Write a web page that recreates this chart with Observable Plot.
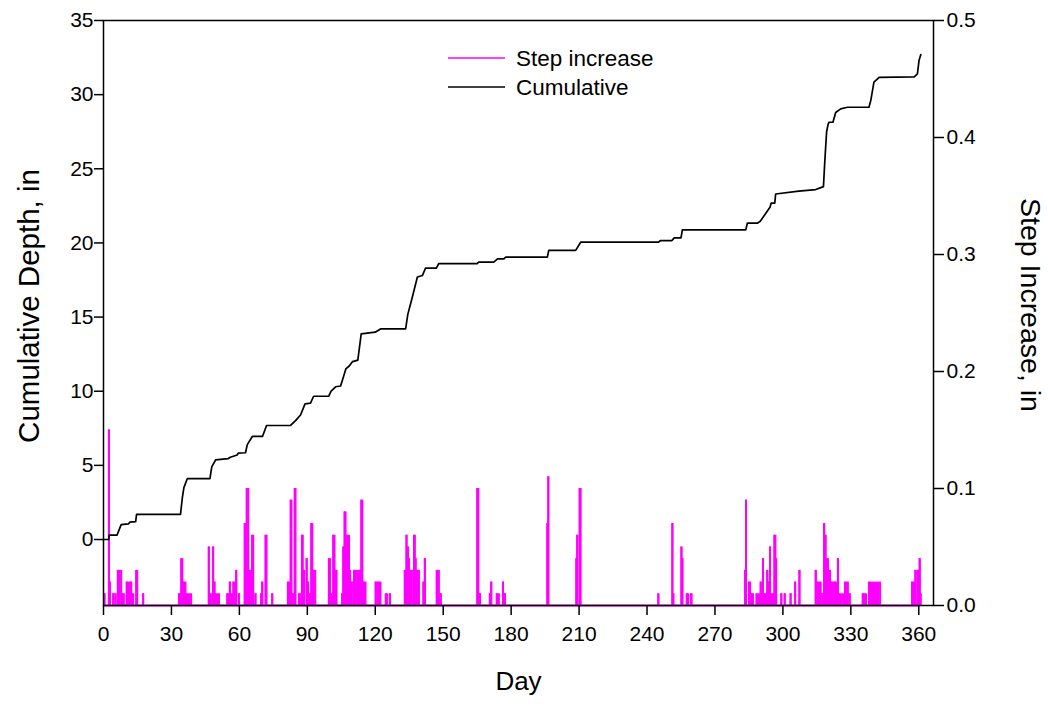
<!DOCTYPE html>
<html><head><meta charset="utf-8">
<script src="https://cdn.jsdelivr.net/npm/d3@7"></script>
<script src="https://cdn.jsdelivr.net/npm/@observablehq/plot@0.6"></script>
<style>body{margin:0;background:#fff} #chart{width:1048px;height:707px}</style>
</head><body><div id="chart"></div>
<script>
// Cumulative depth (in) vs day
const cumDays = [0,2.3,2.5,6,7.8,11,11.6,14.2,14.6,34,34.8,35.5,37,47,47.8,49.5,55,56,59,59.5,62.7,63.5,65.7,70.2,72,82.6,84.8,87,89,91.4,92.8,99.4,100.5,102.5,104.7,106,107,108.5,110,112.3,113.8,120,122.3,133.4,134.4,136.3,138.6,140.8,142.2,147,148,165,165.6,172.3,174,176.8,177.6,196,196.6,208.5,210.7,245,246,251,252,255,255.6,283.6,284.3,288.7,290,292,294.3,294.8,296.4,296.8,307,314.5,317.9,318.5,319.3,320,320.4,322.1,323.3,325.5,328.5,338,338.8,340.2,342.5,358,359.4,360.1,360.9];
const cumVals = [0,0,0.3,0.3,1.0,1.05,1.17,1.2,1.7,1.7,2.8,3.5,4.1,4.1,4.9,5.37,5.45,5.55,5.7,5.82,5.85,6.4,6.95,6.95,7.69,7.69,8.02,8.4,9.15,9.2,9.66,9.66,10.0,10.3,10.35,11.0,11.5,11.7,12.0,12.1,13.87,13.98,14.2,14.2,15.2,16.3,17.7,17.8,18.3,18.3,18.6,18.6,18.7,18.7,18.93,18.93,19.04,19.04,19.5,19.5,20.05,20.05,20.16,20.16,20.34,20.34,20.88,20.88,21.33,21.33,21.46,21.9,22.4,22.68,22.68,23.3,23.49,23.6,23.8,25.5,27.5,28.03,28.14,28.14,28.8,29.04,29.15,29.15,29.6,30.84,31.17,31.2,31.4,32.3,32.7];

// Step increase (in): spans of days [start, end] with value
const stepStart = [0.4,2.4,2.8,4.3,5.3,6.3,8.3,10.2,12.2,12.7,14.4,17.5,33.3,34.3,35.2,36.7,46.5,46.8,48.4,49,49.5,54.6,55.8,56.2,57.3,58.6,59.8,62.3,63.2,64.6,65.6,67.1,69.6,70.1,71.5,74.5,81.4,82.6,83.8,84.4,86.3,87.6,88.5,89.7,90.3,91.1,91.7,92.6,99.5,100.3,101.4,102.5,105.4,105.9,106.4,107.3,108.5,109.4,110.6,112.3,112.8,113.8,115,120.1,121.2,121.6,124.6,126.5,133,133.8,134.4,134.9,135.3,137.1,137.8,138.2,141.2,141.9,147.1,148.9,165,166.2,170.6,171.2,173.6,176.4,177.3,196,196.4,208.8,209.2,210.2,245,251.2,251.6,255.2,255.6,257.5,259.3,283.3,283.7,285,286.1,288.3,290.2,290.6,291.2,292,293.1,293.6,294.3,294.9,296.2,297,299.3,300.8,303.4,305.4,307.3,314.5,315.2,317.4,318.2,318.8,319.3,320.3,321.4,323,324.3,325,327.4,329.5,335.2,338,357,358.5,359.4,360.4,360.8];
const stepEnd   = [0.4,2.4,2.8,4.3,5.3,7.8,9.0,11.6,12.2,13.1,14.9,17.5,34,34.8,36.2,38.7,46.5,48,48.4,49,51,55.2,55.8,57,57.9,58.6,59.8,62.7,63.9,65.2,66.1,67.1,69.6,70.1,72,74.5,82.3,83.0,83.8,84.8,87.3,88.0,88.5,89.7,90.3,91.4,92.2,93.5,100,101,102,102.9,105.4,105.9,106.9,108.4,108.9,110.3,112,112.3,113.5,114.3,115.7,120.9,121.2,122.3,125.3,126.5,133.8,133.8,134.4,134.9,136.8,137.5,137.8,139.3,141.9,141.9,148.1,148.9,165.5,166.2,170.6,171.2,174.6,176.4,177.3,196,196.4,208.8,209.2,210.7,245,251.2,251.6,255.2,255.6,258.1,259.7,283.3,283.7,285.5,286.8,289.8,290.2,290.6,291.2,292.5,293.1,293.6,294.3,295.6,296.7,297,299.3,300.8,303.4,305.4,307.3,314.5,316.7,317.4,318.2,318.8,319.9,320.8,322.6,323.7,324.3,326.6,328.7,329.5,336.7,342.9,357.9,358.5,360,360.4,360.8];
const stepVal   = [0.01,0.15,0.02,0.01,0.01,0.03,0.01,0.02,0.02,0.01,0.03,0.01,0.01,0.04,0.02,0.01,0.05,0.01,0.05,0.02,0.01,0.01,0.02,0.01,0.02,0.03,0.01,0.07,0.10,0.03,0.06,0.01,0.01,0.02,0.06,0.01,0.02,0.09,0.01,0.10,0.01,0.06,0.03,0.04,0.02,0.01,0.07,0.03,0.04,0.01,0.06,0.03,0.01,0.05,0.08,0.06,0.03,0.02,0.03,0.02,0.03,0.09,0.02,0.02,0.01,0.02,0.01,0.01,0.03,0.06,0.05,0.04,0.03,0.06,0.04,0.03,0.02,0.04,0.03,0.01,0.10,0.01,0.01,0.02,0.01,0.02,0.01,0.07,0.11,0.04,0.06,0.10,0.01,0.07,0.01,0.05,0.04,0.01,0.01,0.03,0.09,0.02,0.01,0.01,0.02,0.01,0.04,0.01,0.03,0.02,0.05,0.01,0.06,0.04,0.01,0.01,0.01,0.02,0.03,0.03,0.02,0.01,0.07,0.06,0.04,0.03,0.02,0.02,0.04,0.01,0.02,0.01,0.01,0.02,0.02,0.03,0.03,0.04,0.01];

const dayTicks = [0,30,60,90,120,150,180,210,240,270,300,330,360];
const depthTicks = [0,5,10,15,20,25,30,35];
const stepTicks = [0,0.1,0.2,0.3,0.4,0.5];
const seriesNames = ["Step increase","Cumulative"];
const seriesColors = ["#ff00ff","#000000"];
const xTitle = "Day";
const yLeftTitle = "Cumulative Depth, in";
const yRightTitle = "Step Increase, in";

const L0 = -4.45, L1 = 35, R0 = 0, R1 = 0.5;
const toLeft = r => L0 + (r - R0) * (L1 - L0) / (R1 - R0);
const fromLeft = l => R0 + (l - L0) * (R1 - R0) / (L1 - L0);

const cum = cumDays.map((d, i) => ({day: d, value: cumVals[i]}));
const steps = stepStart.map((s, i) => ({start: s, end: stepEnd[i], base: toLeft(0), top: toLeft(stepVal[i])}));
const dayExtent = d3.extent(cumDays);

const font = "'Liberation Sans', Arial, sans-serif";
const plot = Plot.plot({
  width: 1048, height: 707,
  marginLeft: 103, marginRight: 115, marginTop: 20, marginBottom: 102,
  style: {fontFamily: font, fontSize: "21px", color: "#000", background: "#fff"},
  x: {domain: [0, 366.5]},
  y: {domain: [L0, L1]},
  marks: [
    Plot.ruleY([toLeft(0)], {x1: dayExtent[0], x2: dayExtent[1], stroke: seriesColors[0], strokeWidth: 2}),
    Plot.rect(steps, {x1: "start", x2: "end", y1: "base", y2: "top", fill: seriesColors[0]}),
    Plot.ruleX(steps, {x: "start", y1: "base", y2: "top", stroke: seriesColors[0], strokeWidth: 2}),
    Plot.ruleX(steps, {x: "end", y1: "base", y2: "top", stroke: seriesColors[0], strokeWidth: 2}),
    Plot.line(cum, {x: "day", y: "value", stroke: seriesColors[1], strokeWidth: 1.7}),
    Plot.frame({stroke: "#000", strokeWidth: 1.5}),
    Plot.axisX(dayTicks, {anchor: "bottom", tickSize: 10, tickPadding: 11, strokeWidth: 1.5, label: null}),
    Plot.axisY(depthTicks, {anchor: "left", tickSize: 9, tickPadding: 1, strokeWidth: 1.5, label: null}),
    Plot.axisY(stepTicks.map(toLeft), {anchor: "right", tickSize: 10, tickPadding: 3, strokeWidth: 1.5, label: null,
      tickFormat: d => fromLeft(d).toFixed(1)}),
    Plot.text([xTitle], {frameAnchor: "bottom", dy: 84, fontSize: 26}),
    Plot.text([yLeftTitle], {frameAnchor: "left", textAnchor: "middle", dx: -74, dy: -7, rotate: -90, fontSize: 29.5}),
    Plot.text([yRightTitle], {frameAnchor: "right", textAnchor: "middle", dx: 97, dy: -8, rotate: 90, fontSize: 28.5})
  ]
});
document.getElementById("chart").appendChild(plot);

// Legend inside the plot area
const svg = d3.select(plot);
const lg = svg.append("g").attr("font-family", font).attr("font-size", 22.5).attr("text-anchor", "start");
seriesNames.forEach((name, i) => {
  const y = 58 + i * 29;
  lg.append("line").attr("x1", 448).attr("x2", 505).attr("y1", y).attr("y2", y)
    .attr("stroke", seriesColors[i]).attr("stroke-width", 1.7);
  lg.append("text").attr("x", 516).attr("y", y).attr("dy", "0.35em").attr("text-anchor", "start").text(name);
});
</script></body></html>
